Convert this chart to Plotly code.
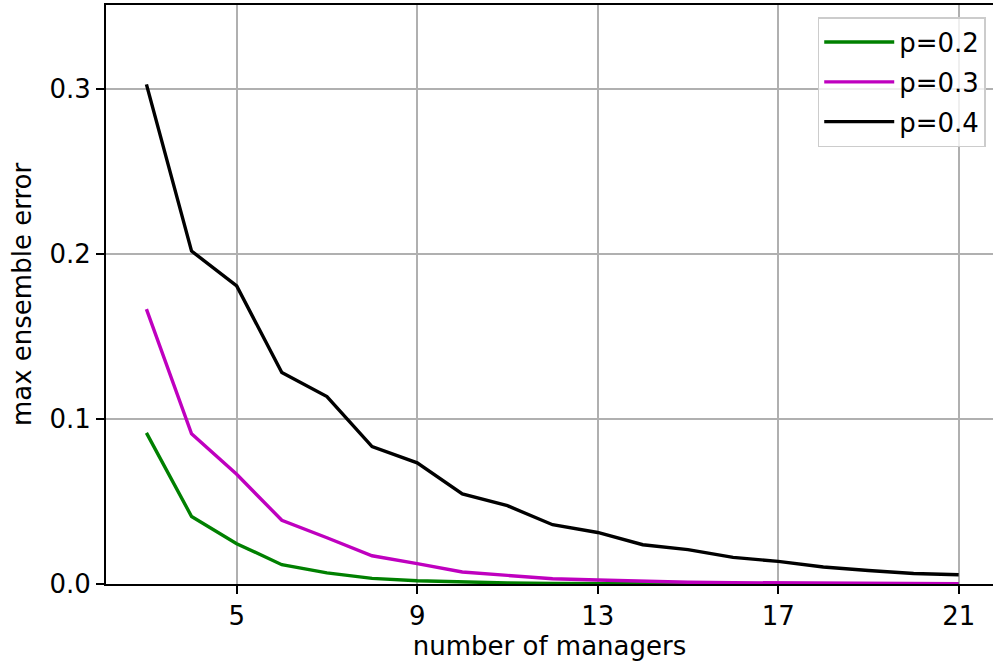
import plotly.graph_objects as go

managers = list(range(3, 22))
err_p02 = [0.0915, 0.0409, 0.0244, 0.0117, 0.0067, 0.0034, 0.0020, 0.0011, 0.0006,
           0.0004, 0.0002, 0.00013, 0.00008, 0.00005, 0.00003, 0.00002, 0.00001,
           0.000008, 0.000005]
err_p03 = [0.1664, 0.0910, 0.0664, 0.0386, 0.0280, 0.0171, 0.0123, 0.0073, 0.0052,
           0.0032, 0.0024, 0.0016, 0.0011, 0.0008, 0.0006, 0.0004, 0.0003,
           0.0002, 0.00015]
err_p04 = [0.3025, 0.2016, 0.1805, 0.1280, 0.1135, 0.0832, 0.0734, 0.0546, 0.0474,
           0.0359, 0.0312, 0.0238, 0.0208, 0.0161, 0.0137, 0.0103, 0.0082,
           0.0064, 0.0056]

series = [("p=0.2", err_p02, "#008000"),
          ("p=0.3", err_p03, "#bf00bf"),
          ("p=0.4", err_p04, "#000000")]

xticks = [5, 9, 13, 17, 21]
yticks = [0.0, 0.1, 0.2, 0.3]

FONT = "DejaVu Sans"
FS = 26

fig = go.Figure()
for i, (name, vals, col) in enumerate(series):
    fig.add_trace(go.Scatter(x=managers, y=vals, mode="lines", name=name,
                             legendgroup=f"g{i}",
                             line=dict(color=col, width=3.4)))

fig.update_layout(
    width=993, height=669,
    margin=dict(l=106, r=0, t=5, b=85),
    paper_bgcolor="white", plot_bgcolor="white",
    font=dict(family=FONT, size=FS, color="black"),
    showlegend=True,
    legend=dict(x=0.9918, y=0.979, xanchor="right", yanchor="top",
                bgcolor="rgba(255,255,255,0.8)", bordercolor="#cccccc",
                borderwidth=1.5, font=dict(family=FONT, size=FS),
                traceorder="grouped", tracegroupgap=3, itemwidth=70),
    xaxis=dict(range=[2.104, 21.76], tickvals=xticks, ticktext=[str(v) for v in xticks],
               showgrid=True, gridcolor="#b0b0b0", gridwidth=1.85,
               showline=True, linecolor="black", linewidth=1.85, mirror=True,
               ticks="outside", ticklen=8, tickwidth=1.85, tickcolor="black",
               zeroline=False,
               title=dict(text="number of managers", standoff=2,
                          font=dict(family=FONT, size=FS))),
    yaxis=dict(range=[0, 0.3506], tickvals=yticks, ticktext=[f"{v:.1f}" for v in yticks],
               showgrid=True, gridcolor="#b0b0b0", gridwidth=1.85,
               showline=True, linecolor="black", linewidth=1.85,
               ticks="outside", ticklen=8, tickwidth=1.85, tickcolor="black",
               zeroline=False,
               title=dict(text="max ensemble error", standoff=10,
                          font=dict(family=FONT, size=FS))),
)

fig.write_html("out.html")
